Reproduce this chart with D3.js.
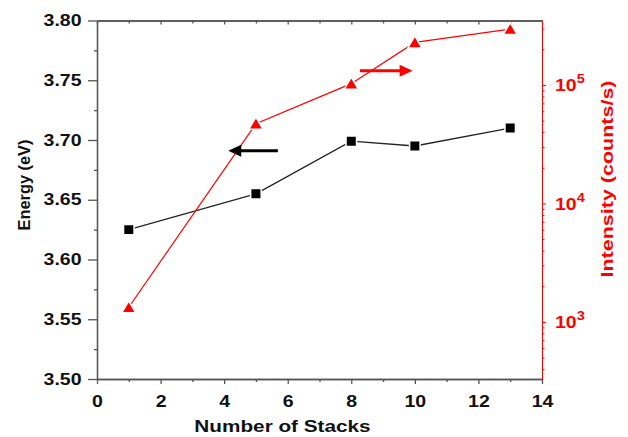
<!DOCTYPE html>
<html>
<head>
<meta charset="utf-8">
<title>Energy and Intensity vs Number of Stacks</title>
<style>
  body { margin: 0; background: #fff; }
  text { font-family: "Liberation Sans", Arial, sans-serif; font-weight: bold; }
  .tick text { font-size: 16px; }
  .axis path, .axis line { stroke-width: 1.3px; }
  .red path, .red line { stroke-width: 1px; }
</style>
<script src="https://cdn.jsdelivr.net/npm/d3@7"></script>
</head>
<body>
<script>
// data
var stacks = [1, 5, 8, 10, 13];
var energy = [3.625, 3.655, 3.699, 3.695, 3.710];
var intensity = [1330, 47100, 102600, 228600, 296000];

// ticks
var xTicks = [0, 2, 4, 6, 8, 10, 12, 14];
var xMinor = [1, 3, 5, 7, 9, 11, 13];
var eTicks = [3.50, 3.55, 3.60, 3.65, 3.70, 3.75, 3.80];
var eMinor = [3.525, 3.575, 3.625, 3.675, 3.725, 3.775];
var iTicks = [1e3, 1e4, 1e5];
var iMinor = [400, 500, 600, 700, 800, 900,
              2000, 3000, 4000, 5000, 6000, 7000, 8000, 9000,
              20000, 30000, 40000, 50000, 60000, 70000, 80000, 90000,
              200000, 300000];

// annotation arrows, in data units [stacks, value]
var energyArrow = [[5.69, 3.691], [4.13, 3.691]];
var intensityArrow = [[8.27, 132000], [9.93, 132000]];

var width = 628, height = 437;
var mLeft = 97, mRight = 542, mTop = 20.5, mBottom = 379;
var sx = 1.22; // the figure's lettering is wide

var svg = d3.select("body").append("svg")
  .attr("width", width)
  .attr("height", height);

var x = d3.scaleLinear().domain([0, 14]).range([mLeft, mRight]);
var yE = d3.scaleLinear().domain([3.50, 3.80]).range([mBottom, mTop]);
var yI = d3.scaleLog().domain([330, 350000]).range([mBottom, mTop]);

// bottom axis
var gx = svg.append("g").attr("class", "axis").attr("color", "#555")
  .attr("transform", "translate(0," + mBottom + ")")
  .call(d3.axisBottom(x).tickValues(xTicks).tickSize(5).tickSizeOuter(0).tickFormat(d3.format("d")));
gx.selectAll("text").attr("y", 28).attr("dy", 0).attr("fill", "#111")
  .attr("transform", "scale(" + sx + ",1)");
svg.append("g").attr("class", "axis").attr("color", "#555")
  .attr("transform", "translate(0," + mBottom + ")")
  .call(d3.axisBottom(x).tickValues(xMinor).tickSize(3).tickSizeOuter(0).tickFormat(""));

// top axis, ticks inward
svg.append("g").attr("class", "axis").attr("color", "#555")
  .attr("transform", "translate(0," + mTop + ")")
  .call(d3.axisBottom(x).tickValues(xTicks).tickSize(4).tickSizeOuter(0).tickFormat(""));
svg.append("g").attr("class", "axis").attr("color", "#555")
  .attr("transform", "translate(0," + mTop + ")")
  .call(d3.axisBottom(x).tickValues(xMinor).tickSize(3).tickSizeOuter(0).tickFormat(""));

// left axis
var gl = svg.append("g").attr("class", "axis").attr("color", "#555")
  .attr("transform", "translate(" + mLeft + ",0)")
  .call(d3.axisLeft(yE).tickValues(eTicks).tickSize(9).tickSizeOuter(0).tickFormat(d3.format(".2f")));
gl.selectAll("text").attr("x", -15.5 / sx).attr("fill", "#111")
  .attr("transform", "scale(" + sx + ",1)");
svg.append("g").attr("class", "axis").attr("color", "#555")
  .attr("transform", "translate(" + mLeft + ",0)")
  .call(d3.axisLeft(yE).tickValues(eMinor).tickSize(3).tickSizeOuter(0).tickFormat(""));

// right axis (log, red)
var gr = svg.append("g").attr("class", "axis red").attr("color", "#ff0000")
  .attr("transform", "translate(" + mRight + ",0)")
  .call(d3.axisRight(yI).tickValues(iTicks).tickSize(4).tickSizeOuter(0).tickFormat(""));
gr.selectAll(".tick text")
  .attr("x", 13 / sx).attr("dy", "0.36em")
  .attr("fill", "#ff0000")
  .attr("transform", "scale(" + sx + ",1)")
  .each(function(d) {
    var t = d3.select(this);
    t.append("tspan").text("10");
    t.append("tspan").attr("dy", -8).style("font-size", "12px").text(Math.round(Math.log10(d)));
  });
svg.append("g").attr("class", "axis red").attr("color", "#ff0000")
  .attr("transform", "translate(" + mRight + ",0)")
  .call(d3.axisRight(yI).tickValues(iMinor).tickSize(2.5).tickSizeOuter(0).tickFormat(""));

// lines
var idx = d3.range(stacks.length);
svg.append("path")
  .attr("d", d3.line().x(function(i){ return x(stacks[i]); }).y(function(i){ return yE(energy[i]); })(idx))
  .attr("fill", "none").attr("stroke", "#222").attr("stroke-width", 1.3);
svg.append("path")
  .attr("d", d3.line().x(function(i){ return x(stacks[i]); }).y(function(i){ return yI(intensity[i]); })(idx))
  .attr("fill", "none").attr("stroke", "#ff0000").attr("stroke-width", 1.2);

// markers
svg.selectAll(".sq").data(idx).enter().append("path")
  .attr("class", "sq")
  .attr("d", d3.symbol().type(d3.symbolSquare).size(110))
  .attr("transform", function(i){ return "translate(" + x(stacks[i]) + "," + yE(energy[i]) + ")"; })
  .attr("fill", "#000").attr("stroke", "#fff").attr("stroke-width", 1.5);
svg.selectAll(".tri").data(idx).enter().append("path")
  .attr("class", "tri")
  .attr("d", "M0,-6.5L7,5.5L-7,5.5Z")
  .attr("transform", function(i){ return "translate(" + x(stacks[i]) + "," + yI(intensity[i]) + ")"; })
  .attr("fill", "#ff0000").attr("stroke", "#fff").attr("stroke-width", 1.5);

// arrows
function arrow(p0, p1, color) {
  var dir = p1[0] > p0[0] ? 1 : -1;
  svg.append("line")
    .attr("x1", p0[0]).attr("y1", p0[1])
    .attr("x2", p1[0] - dir * 9).attr("y2", p1[1])
    .attr("stroke", color).attr("stroke-width", 3);
  svg.append("path")
    .attr("d", "M" + p1[0] + "," + p1[1] +
               "L" + (p1[0] - dir * 13) + "," + (p1[1] - 6) +
               "L" + (p1[0] - dir * 13) + "," + (p1[1] + 6) + "Z")
    .attr("fill", color);
}
arrow([x(energyArrow[0][0]), yE(energyArrow[0][1])], [x(energyArrow[1][0]), yE(energyArrow[1][1])], "#000");
arrow([x(intensityArrow[0][0]), yI(intensityArrow[0][1])], [x(intensityArrow[1][0]), yI(intensityArrow[1][1])], "#ff0000");

// axis titles
svg.append("g").attr("transform", "translate(282.5,432) scale(" + sx + ",1)")
  .append("text").attr("text-anchor", "middle").style("font-size", "17px").attr("fill", "#111")
  .text("Number of Stacks");
svg.append("text")
  .attr("transform", "translate(30,185) rotate(-90)")
  .attr("text-anchor", "middle").style("font-size", "17px").attr("fill", "#111")
  .attr("textLength", 91).attr("lengthAdjust", "spacingAndGlyphs")
  .text("Energy (eV)");
svg.append("text")
  .attr("transform", "translate(613,179) rotate(-90)")
  .attr("text-anchor", "middle").style("font-size", "16px").attr("fill", "#ff0000")
  .attr("textLength", 197).attr("lengthAdjust", "spacingAndGlyphs")
  .text("Intensity (counts/s)");
</script>
</body>
</html>
